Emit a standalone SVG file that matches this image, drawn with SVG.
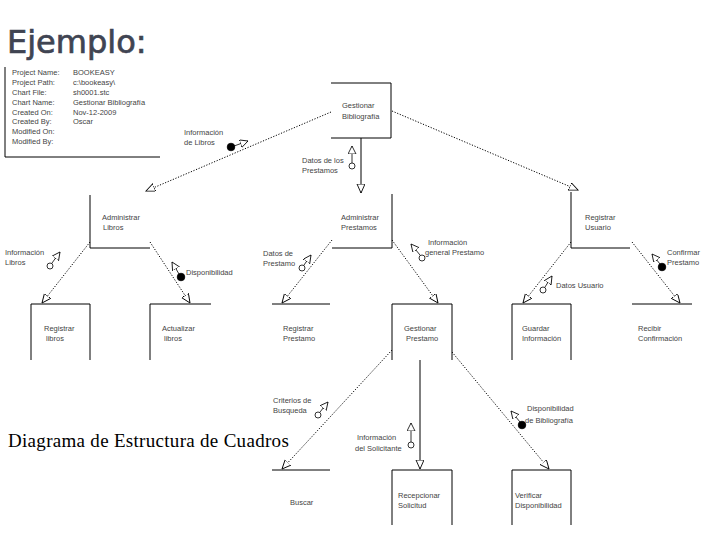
<svg xmlns="http://www.w3.org/2000/svg" width="720" height="540" viewBox="0 0 720 540">
<style>
.bx{fill:none;stroke:#000;stroke-width:1}
.t{font-family:"Liberation Sans",Arial,sans-serif;font-size:7.5px;fill:#444}
.dot{fill:none;stroke:#000;stroke-width:1;stroke-dasharray:1.2 1.6}
.sol{fill:none;stroke:#000;stroke-width:1}
.cp{fill:none;stroke:#000;stroke-width:0.8}
.od{fill:#fff;stroke:#000;stroke-width:0.8}
.fd{fill:#000;stroke:#000;stroke-width:0.8}
</style>
<defs>
<marker id="arr" markerWidth="11" markerHeight="10" refX="9" refY="4" orient="auto" markerUnits="userSpaceOnUse">
<path d="M0,0 L9,4 L0,8 z" fill="#fff" stroke="#000" stroke-width="0.9" stroke-dasharray="none"/>
</marker>
<marker id="carr" markerWidth="10" markerHeight="10" refX="8" refY="4" orient="auto" markerUnits="userSpaceOnUse">
<path d="M0,0 L8,4 L0,8 z" fill="#fff" stroke="#000" stroke-width="0.8"/>
</marker>
</defs>
<rect width="720" height="540" fill="#fff"/>
<text x="7" y="53" font-family="'DejaVu Sans','Open Sans',sans-serif" font-size="32" fill="#404452" stroke="#404452" stroke-width="0.7">Ejemplo:</text>

<g id="info">
<path class="bx" d="M5,67 V157 H160"/>
<g class="t">
<text x="12" y="75">Project Name:</text><text x="73" y="75">BOOKEASY</text>
<text x="12" y="85">Project Path:</text><text x="73" y="85">c:\bookeasy\</text>
<text x="12" y="95">Chart File:</text><text x="73" y="95">sh0001.stc</text>
<text x="12" y="105">Chart Name:</text><text x="73" y="105">Gestionar Bibliografía</text>
<text x="12" y="115">Created On:</text><text x="73" y="115">Nov-12-2009</text>
<text x="12" y="124">Created By:</text><text x="73" y="124">Oscar</text>
<text x="12" y="134">Modified On:</text>
<text x="12" y="144">Modified By:</text>
</g>
</g>

<g id="connectors">
<path class="dot" d="M331,112 L146,191" marker-end="url(#arr)"/>
<path class="sol" d="M361,138 V193" marker-end="url(#arr)"/>
<path class="dot" d="M392,111 L578,190" marker-end="url(#arr)"/>
<path class="dot" d="M90,242 L42,303" marker-end="url(#arr)"/>
<path class="dot" d="M150,242 L190,303" marker-end="url(#arr)"/>
<path class="dot" d="M332,240 L282,303" marker-end="url(#arr)"/>
<path class="dot" d="M392,240 L438,303" marker-end="url(#arr)"/>
<path class="dot" d="M571,242 L523,303" marker-end="url(#arr)"/>
<path class="dot" d="M632,242 L680,303" marker-end="url(#arr)"/>
<path class="dot" d="M392,350 L282,469" marker-end="url(#arr)"/>
<path class="sol" d="M420,360 V469" marker-end="url(#arr)"/>
<path class="dot" d="M452,352 L549,469" marker-end="url(#arr)"/>
</g>

<g id="couples">
<g id="cp1"><circle class="fd" cx="231" cy="147" r="3.8"/><path class="cp" d="M234,146 L248,141" marker-end="url(#carr)"/>
<text class="t" x="184" y="135">Información</text><text class="t" x="184" y="145">de Libros</text></g>
<g id="cp2"><circle class="od" cx="352" cy="166" r="3"/><path class="cp" d="M352,163 V146" marker-end="url(#carr)"/>
<text class="t" x="302" y="163">Datos de los</text><text class="t" x="302" y="173">Prestamos</text></g>
<g id="cp3"><circle class="od" cx="50" cy="266" r="3"/><path class="cp" d="M52,263 L60,252" marker-end="url(#carr)"/>
<text class="t" x="5" y="255">Información</text><text class="t" x="5" y="265">Libros</text></g>
<g id="cp4"><circle class="fd" cx="181" cy="277" r="3.8"/><path class="cp" d="M179,274 L172,262" marker-end="url(#carr)"/>
<text class="t" x="186" y="275">Disponibilidad</text></g>
<g id="cp5"><circle class="od" cx="302" cy="268" r="3"/><path class="cp" d="M304,265 L311,255" marker-end="url(#carr)"/>
<text class="t" x="263" y="256">Datos de</text><text class="t" x="263" y="266">Prestamo</text></g>
<g id="cp6"><circle class="od" cx="422" cy="258" r="3"/><path class="cp" d="M420,255 L411,244" marker-end="url(#carr)"/>
<text class="t" x="428" y="245">Información</text><text class="t" x="425" y="255">general Prestamo</text></g>
<g id="cp7"><circle class="od" cx="543" cy="290" r="3"/><path class="cp" d="M545,287 L552,276" marker-end="url(#carr)"/>
<text class="t" x="556" y="288">Datos Usuario</text></g>
<g id="cp8"><circle class="fd" cx="662" cy="267" r="3.8"/><path class="cp" d="M660,264 L652,254" marker-end="url(#carr)"/>
<text class="t" x="667" y="255">Confirmar</text><text class="t" x="667" y="265">Prestamo</text></g>
<g id="cp9"><circle class="od" cx="318" cy="415" r="3"/><path class="cp" d="M320,412 L328,402" marker-end="url(#carr)"/>
<text class="t" x="273" y="403">Criterios de</text><text class="t" x="273" y="413">Busqueda</text></g>
<g id="cp10"><circle class="od" cx="411" cy="445" r="3"/><path class="cp" d="M411,442 V423" marker-end="url(#carr)"/>
<text class="t" x="357" y="440">Información</text><text class="t" x="355" y="451">del Solicitante</text></g>
<g id="cp11"><circle class="fd" cx="522" cy="425" r="3.8"/><path class="cp" d="M520,422 L511,411" marker-end="url(#carr)"/>
<text class="t" x="527" y="411">Disponibilidad</text><text class="t" x="525" y="423">de Bibliografía</text></g>
</g>

<g id="n-gestionar-bibliografia"><path class="bx" d="M331,83 H391 V138 H331"/>
<text class="t" x="342" y="108">Gestionar</text><text class="t" x="342" y="119">Bibliografía</text></g>
<g id="n-administrar-libros"><path class="bx" d="M90,195 V248 H150"/>
<text class="t" x="102" y="220">Administrar</text><text class="t" x="103" y="230">Libros</text></g>
<g id="n-administrar-prestamos"><path class="bx" d="M392,194 V248 H332"/>
<text class="t" x="341" y="220">Administrar</text><text class="t" x="341" y="230">Prestamos</text></g>
<g id="n-registrar-usuario"><path class="bx" d="M571,192 V248 H630"/>
<text class="t" x="585" y="220">Registrar</text><text class="t" x="585" y="230">Usuario</text></g>
<g id="n-registrar-libros"><path class="bx" d="M31,360 V304 H90 V360"/>
<text class="t" x="44" y="331">Registrar</text><text class="t" x="46" y="341">libros</text></g>
<g id="n-actualizar-libros"><path class="bx" d="M150,360 V304 H211"/>
<text class="t" x="162" y="331">Actualizar</text><text class="t" x="164" y="341">libros</text></g>
<g id="n-registrar-prestamo"><path class="bx" d="M272,304 H330"/>
<text class="t" x="283" y="331">Registrar</text><text class="t" x="283" y="341">Prestamo</text></g>
<g id="n-gestionar-prestamo"><path class="bx" d="M392,360 V304 H452 V360"/>
<text class="t" x="404" y="331">Gestionar</text><text class="t" x="406" y="341">Prestamo</text></g>
<g id="n-guardar-informacion"><path class="bx" d="M512,360 V304 H571 V360"/>
<text class="t" x="522" y="331">Guardar</text><text class="t" x="522" y="341">Información</text></g>
<g id="n-recibir-confirmacion"><path class="bx" d="M632,304 H692"/>
<text class="t" x="638" y="331">Recibir</text><text class="t" x="638" y="341">Confirmación</text></g>
<g id="n-buscar"><path class="bx" d="M272,470 H330"/>
<text class="t" x="290" y="505">Buscar</text></g>
<g id="n-recepcionar-solicitud"><path class="bx" d="M392,525 V470 H452 V525"/>
<text class="t" x="398" y="498">Recepcionar</text><text class="t" x="398" y="508">Solicitud</text></g>
<g id="n-verificar-disponibilidad"><path class="bx" d="M512,525 V470 H571 V525"/>
<text class="t" x="515" y="498">Verificar</text><text class="t" x="515" y="508">Disponibilidad</text></g>

<text x="8" y="447" font-family="'Liberation Serif','Times New Roman',serif" font-size="19" letter-spacing="0.3" fill="#000">Diagrama de Estructura de Cuadros</text>
</svg>
